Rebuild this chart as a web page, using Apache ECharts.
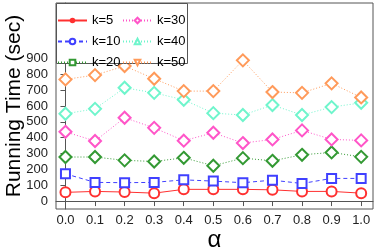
<!DOCTYPE html>
<html><head><meta charset="utf-8">
<script src="https://cdn.jsdelivr.net/npm/echarts@6/dist/echarts.min.js"></script>
<style>html,body{margin:0;padding:0;background:#fff}#c{width:374px;height:249px}</style>
</head><body><div id="c"></div>
<script>
const alpha = [0.0, 0.1, 0.2, 0.3, 0.4, 0.5, 0.6, 0.7, 0.8, 0.9, 1.0];
const xTicks = [0.0, 0.1, 0.2, 0.3, 0.4, 0.5, 0.6, 0.7, 0.8, 0.9, 1.0];
const yTicks = [0, 100, 200, 300, 400, 500, 600, 700, 800, 900];
const k5  = [55, 61, 57, 50, 74, 74, 74, 71, 61, 61, 50];
const k10 = [172, 118, 116, 118, 134, 126, 116, 132, 111, 143, 143];
const k20 = [278, 278, 257, 250, 273, 223, 271, 254, 292, 307, 279];
const k30 = [437, 379, 526, 462, 381, 431, 366, 389, 446, 389, 383];
const k40 = [551, 582, 715, 683, 639, 555, 543, 606, 543, 593, 620];
const k50 = [768, 795, 852, 772, 694, 694, 888, 688, 683, 743, 654];
const names = ['k=5', 'k=10', 'k=20', 'k=30', 'k=40', 'k=50'];

const FONT = 'Liberation Sans, Arial, sans-serif';
const cfg = [
  {name:'k=5',  d:k5,  color:'#ff3030', type:'solid', sym:'emptyCircle',  size:10, lsym:'circle', lrot:0},
  {name:'k=10', d:k10, color:'#4040ff', type:[4,3],   sym:'emptyRect',    size:9,  lsym:'emptyCircle', lrot:0},
  {name:'k=20', d:k20, color:'#339933', type:[1,2],   sym:'emptyDiamond', size:12, lsym:'emptyRect', lrot:0},
  {name:'k=30', d:k30, color:'#ff55c8', type:[1,2],   sym:'emptyDiamond', size:12, lsym:'emptyDiamond', lrot:0},
  {name:'k=40', d:k40, color:'#6ff5cc', type:[1,2],   sym:'emptyDiamond', size:12, lsym:'emptyTriangle', lrot:0},
  {name:'k=50', d:k50, color:'#ff9a5a', type:[1,2],   sym:'emptyDiamond', size:12, lsym:'emptyTriangle', lrot:180}
];

const series = [];
cfg.forEach(c => {
  series.push({
    name: 'plot ' + c.name, type: 'line',
    data: alpha.map((a, i) => [a, c.d[i]]),
    symbol: c.sym, symbolSize: c.size,
    lineStyle: {color: c.color, width: 1, type: c.type},
    itemStyle: {color: c.color, borderWidth: 0.9},
    emphasis: {disabled: true}, animation: false, z: 3
  });
  series.push({
    name: c.name, type: 'line', data: [],
    symbol: c.lsym, symbolRotate: c.lrot,
    lineStyle: {color: c.color, width: 1, type: c.type},
    itemStyle: {color: c.color, borderWidth: 0.9},
    animation: false
  });
});

const legendCommon = {
  orient: 'vertical', itemWidth: 29, itemHeight: 7, itemGap: 8,
  textStyle: {fontFamily: FONT, fontSize: 13, color: '#000'},
  selectedMode: false, padding: 0, z: 30
};

const chart = echarts.init(document.getElementById('c'), null, {renderer: 'canvas'});
chart.setOption({
  animation: false,
  textStyle: {fontFamily: FONT},
  grid: {left: 56, top: 3, right: 1, bottom: 40, show: true, borderColor: '#555', borderWidth: 1,
         containLabel: false, outerBoundsMode: 'none'},
  graphic: {elements: [{type: 'rect', z: 25, silent: true,
    shape: {x: 56.5, y: 3.5, width: 131, height: 60},
    style: {fill: '#ffffff', stroke: '#555555', lineWidth: 1}}]},
  legend: [
    Object.assign({left: 57, top: 14, data: [names[0], names[1], names[2]]}, legendCommon),
    Object.assign({left: 122, top: 14, data: [names[3], names[4], names[5]]}, legendCommon)
  ],
  xAxis: {
    type: 'value', min: -0.032, max: 1.04,
    name: 'α', nameLocation: 'middle', nameGap: 19, nameMoveOverlap: false,
    nameTextStyle: {fontFamily: FONT, fontSize: 24, color: '#000'},
    axisLine: {show: true, lineStyle: {color: '#555'}},
    axisTick: {show: true, length: 5, customValues: xTicks, lineStyle: {color: '#555'}},
    axisLabel: {customValues: xTicks, formatter: v => v.toFixed(1), fontSize: 13, color: '#222', margin: 5, fontFamily: FONT},
    splitLine: {show: false}
  },
  yAxis: {
    type: 'value', min: -50, max: 1250,
    name: 'Running Time (sec)', nameLocation: 'middle', nameGap: 31, nameMoveOverlap: false,
    nameTextStyle: {fontFamily: FONT, fontSize: 21, color: '#000'},
    axisLine: {show: true, lineStyle: {color: '#555'}},
    axisTick: {show: true, length: 5, customValues: yTicks, lineStyle: {color: '#555'}},
    axisLabel: {customValues: yTicks, fontSize: 13, color: '#222', margin: 8, fontFamily: FONT},
    splitLine: {show: false}
  },
  series: series
});
</script></body></html>
